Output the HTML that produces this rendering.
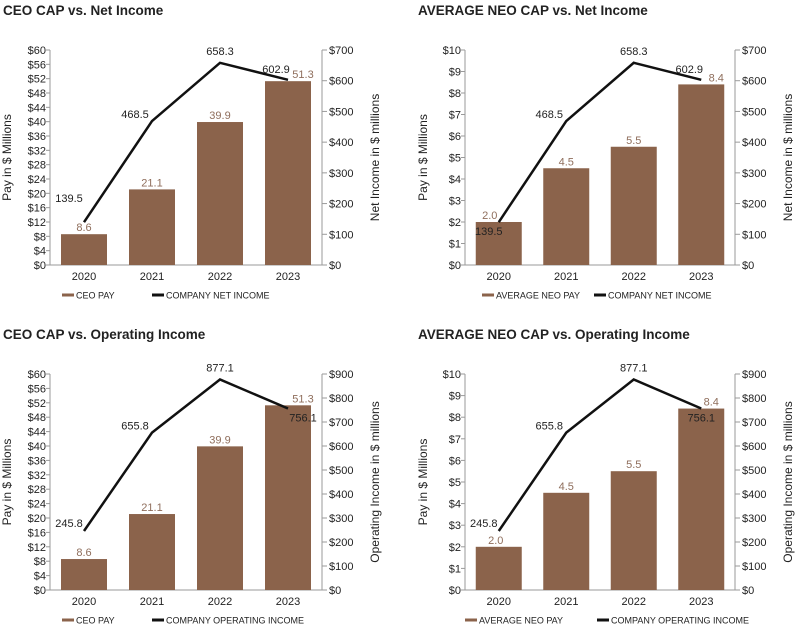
<!DOCTYPE html>
<html><head><meta charset="utf-8"><style>
body{margin:0;background:#fff;width:800px;height:629px;overflow:hidden}
svg{display:block;font-family:"Liberation Sans",Arial,sans-serif}
</style></head><body>
<svg id="s" width="800" height="629" xmlns="http://www.w3.org/2000/svg"></svg>
<script>
const years = ["2020","2021","2022","2023"];
const ceoPay = [8.6, 21.1, 39.9, 51.3];
const neoPay = [2.0, 4.5, 5.5, 8.4];
const netIncome = [139.5, 468.5, 658.3, 602.9];
const opIncome = [245.8, 655.8, 877.1, 756.1];
const ceoTicks = [0,4,8,12,16,20,24,28,32,36,40,44,48,52,56,60];
const neoTicks = [0,1,2,3,4,5,6,7,8,9,10];
const netTicks = [0,100,200,300,400,500,600,700];
const opTicks = [0,100,200,300,400,500,600,700,800,900];

const NS="http://www.w3.org/2000/svg";
const svg=document.getElementById('s');
function el(tag,attrs,parent,text){
  const e=document.createElementNS(NS,tag);
  for(const k in attrs) e.setAttribute(k,attrs[k]);
  if(text!==undefined) e.textContent=text;
  (parent||svg).appendChild(e);return e;
}
const BAR="#8b634b", AX="#9a9a9a", BARTXT="#8f6e5c";

function chart(cfg){
  const g=el('g',{});
  
  
  const L=cfg.left,R=cfg.right,T=cfg.top,B=cfg.bottom;
  const lmax=cfg.lTicks[cfg.lTicks.length-1], rmax=cfg.rTicks[cfg.rTicks.length-1];
  const yl=v=>B-(v/lmax)*(B-T), yr=v=>B-(v/rmax)*(B-T);
  const band=(R-L)/years.length, xc=i=>L+band*(i+0.5);
  const t=el('text',{x:cfg.titleX,y:T-35,'font-size':13.5,'font-weight':'bold',fill:'#222'},g,cfg.title);
  
  el('line',{x1:L,y1:T,x2:L,y2:B,stroke:AX,'stroke-width':1},g);
  el('line',{x1:R,y1:T,x2:R,y2:B,stroke:AX,'stroke-width':1},g);
  el('line',{x1:L,y1:B,x2:R,y2:B,stroke:AX,'stroke-width':1},g);
  cfg.lTicks.forEach(v=>{
    el('line',{x1:L-4,y1:yl(v),x2:L,y2:yl(v),stroke:AX},g);
    const tx=el('text',{x:L-4,y:yl(v)+4,'font-size':11,'text-anchor':'end',fill:'#222'},g,'$'+v);
    
  });
  cfg.rTicks.forEach(v=>{
    el('line',{x1:R,y1:yr(v),x2:R+5,y2:yr(v),stroke:AX},g);
    const tx=el('text',{x:R+7,y:yr(v)+4,'font-size':11,fill:'#222'},g,'$'+v);
    
  });
  const yt=el('text',{x:0,y:0,'font-size':12,'text-anchor':'middle',fill:'#222',transform:`translate(${L-cfg.ltOff},${(T+B)/2}) rotate(-90)`},g,'Pay in $ Millions');
  
  const rt=el('text',{x:0,y:0,'font-size':12,'text-anchor':'middle',fill:'#222',transform:`translate(${R+57},${(T+B)/2}) rotate(-90)`},g,cfg.rTitle);
  
  cfg.pay.forEach((v,i)=>{
    const b=el('rect',{x:xc(i)-23,y:yl(v),width:46,height:B-yl(v),fill:BAR},g);
    
    const bt=el('text',{x:xc(i)+cfg.barOff[i],y:yl(v)-3,'font-size':11,'text-anchor':'middle',fill:BARTXT},g,v.toFixed(1));
    
    const xl=el('text',{x:xc(i),y:B+15,'font-size':11,'text-anchor':'middle',fill:'#222'},g,years[i]);
    
  });
  const pts=cfg.inc.map((v,i)=>xc(i)+','+yr(v)).join(' ');
  const pl=el('polyline',{points:pts,fill:'none',stroke:'#111','stroke-width':2.5},g);
  
  cfg.inc.forEach((v,i)=>{
    const o=cfg.lblOff[i];
    const lt=el('text',{x:xc(i)+o[0],y:yr(v)+o[1],'font-size':11,'text-anchor':'middle',fill:'#222'},g,v.toFixed(1));
    
  });
  const ly=B+30;
  const lg=el('g',{},g);
  el('rect',{x:cfg.lg1,y:ly-1.5,width:12,height:3,fill:BAR},lg);
  el('text',{x:cfg.lg1+14,y:ly+3.5,'font-size':9,fill:'#222'},lg,cfg.lgPay);
  el('rect',{x:cfg.lg2,y:ly-1.5,width:12,height:3,fill:'#111'},lg);
  el('text',{x:cfg.lg2+14,y:ly+3.5,'font-size':9,fill:'#222'},lg,cfg.lgInc);
}
chart({name:'ceo-net-income-chart',title:'CEO CAP vs. Net Income',titleX:3,left:50,right:322,top:50,bottom:265,
  lTicks:ceoTicks,rTicks:netTicks,pay:ceoPay,inc:netIncome,rTitle:'Net Income in $ millions',ltOff:39,
  barOff:[0,0,0,15],
  lblOff:[[-15,-20],[-17,-3],[0,-8],[-12,-7]],lg1:62,lg2:152,lgPay:'CEO PAY',lgInc:'COMPANY NET INCOME'});
chart({name:'neo-net-income-chart',title:'AVERAGE NEO CAP vs. Net Income',titleX:418,left:465,right:735,top:50,bottom:265,
  lTicks:neoTicks,rTicks:netTicks,pay:neoPay,inc:netIncome,rTitle:'Net Income in $ millions',ltOff:38,
  barOff:[-9,0,0,15],
  lblOff:[[-10,13],[-17,-3],[0,-8],[-12,-7]],lg1:482,lg2:594,lgPay:'AVERAGE NEO PAY',lgInc:'COMPANY NET INCOME'});
chart({name:'ceo-operating-income-chart',title:'CEO CAP vs. Operating Income',titleX:3,left:50,right:322,top:374,bottom:590,
  lTicks:ceoTicks,rTicks:opTicks,pay:ceoPay,inc:opIncome,rTitle:'Operating Income in $ millions',ltOff:39,
  barOff:[0,0,0,15],
  lblOff:[[-15,-4],[-17,-3],[0,-8],[15,13]],lg1:62,lg2:152,lgPay:'CEO PAY',lgInc:'COMPANY OPERATING INCOME'});
chart({name:'neo-operating-income-chart',title:'AVERAGE NEO CAP vs. Operating Income',titleX:418,left:465,right:735,top:374,bottom:590,
  lTicks:neoTicks,rTicks:opTicks,pay:neoPay,inc:opIncome,rTitle:'Operating Income in $ millions',ltOff:38,
  barOff:[-3,0,0,10],
  lblOff:[[-15,-4],[-17,-3],[0,-8],[0,13]],lg1:465,lg2:597,lgPay:'AVERAGE NEO PAY',lgInc:'COMPANY OPERATING INCOME'});
</script>
</body></html>
